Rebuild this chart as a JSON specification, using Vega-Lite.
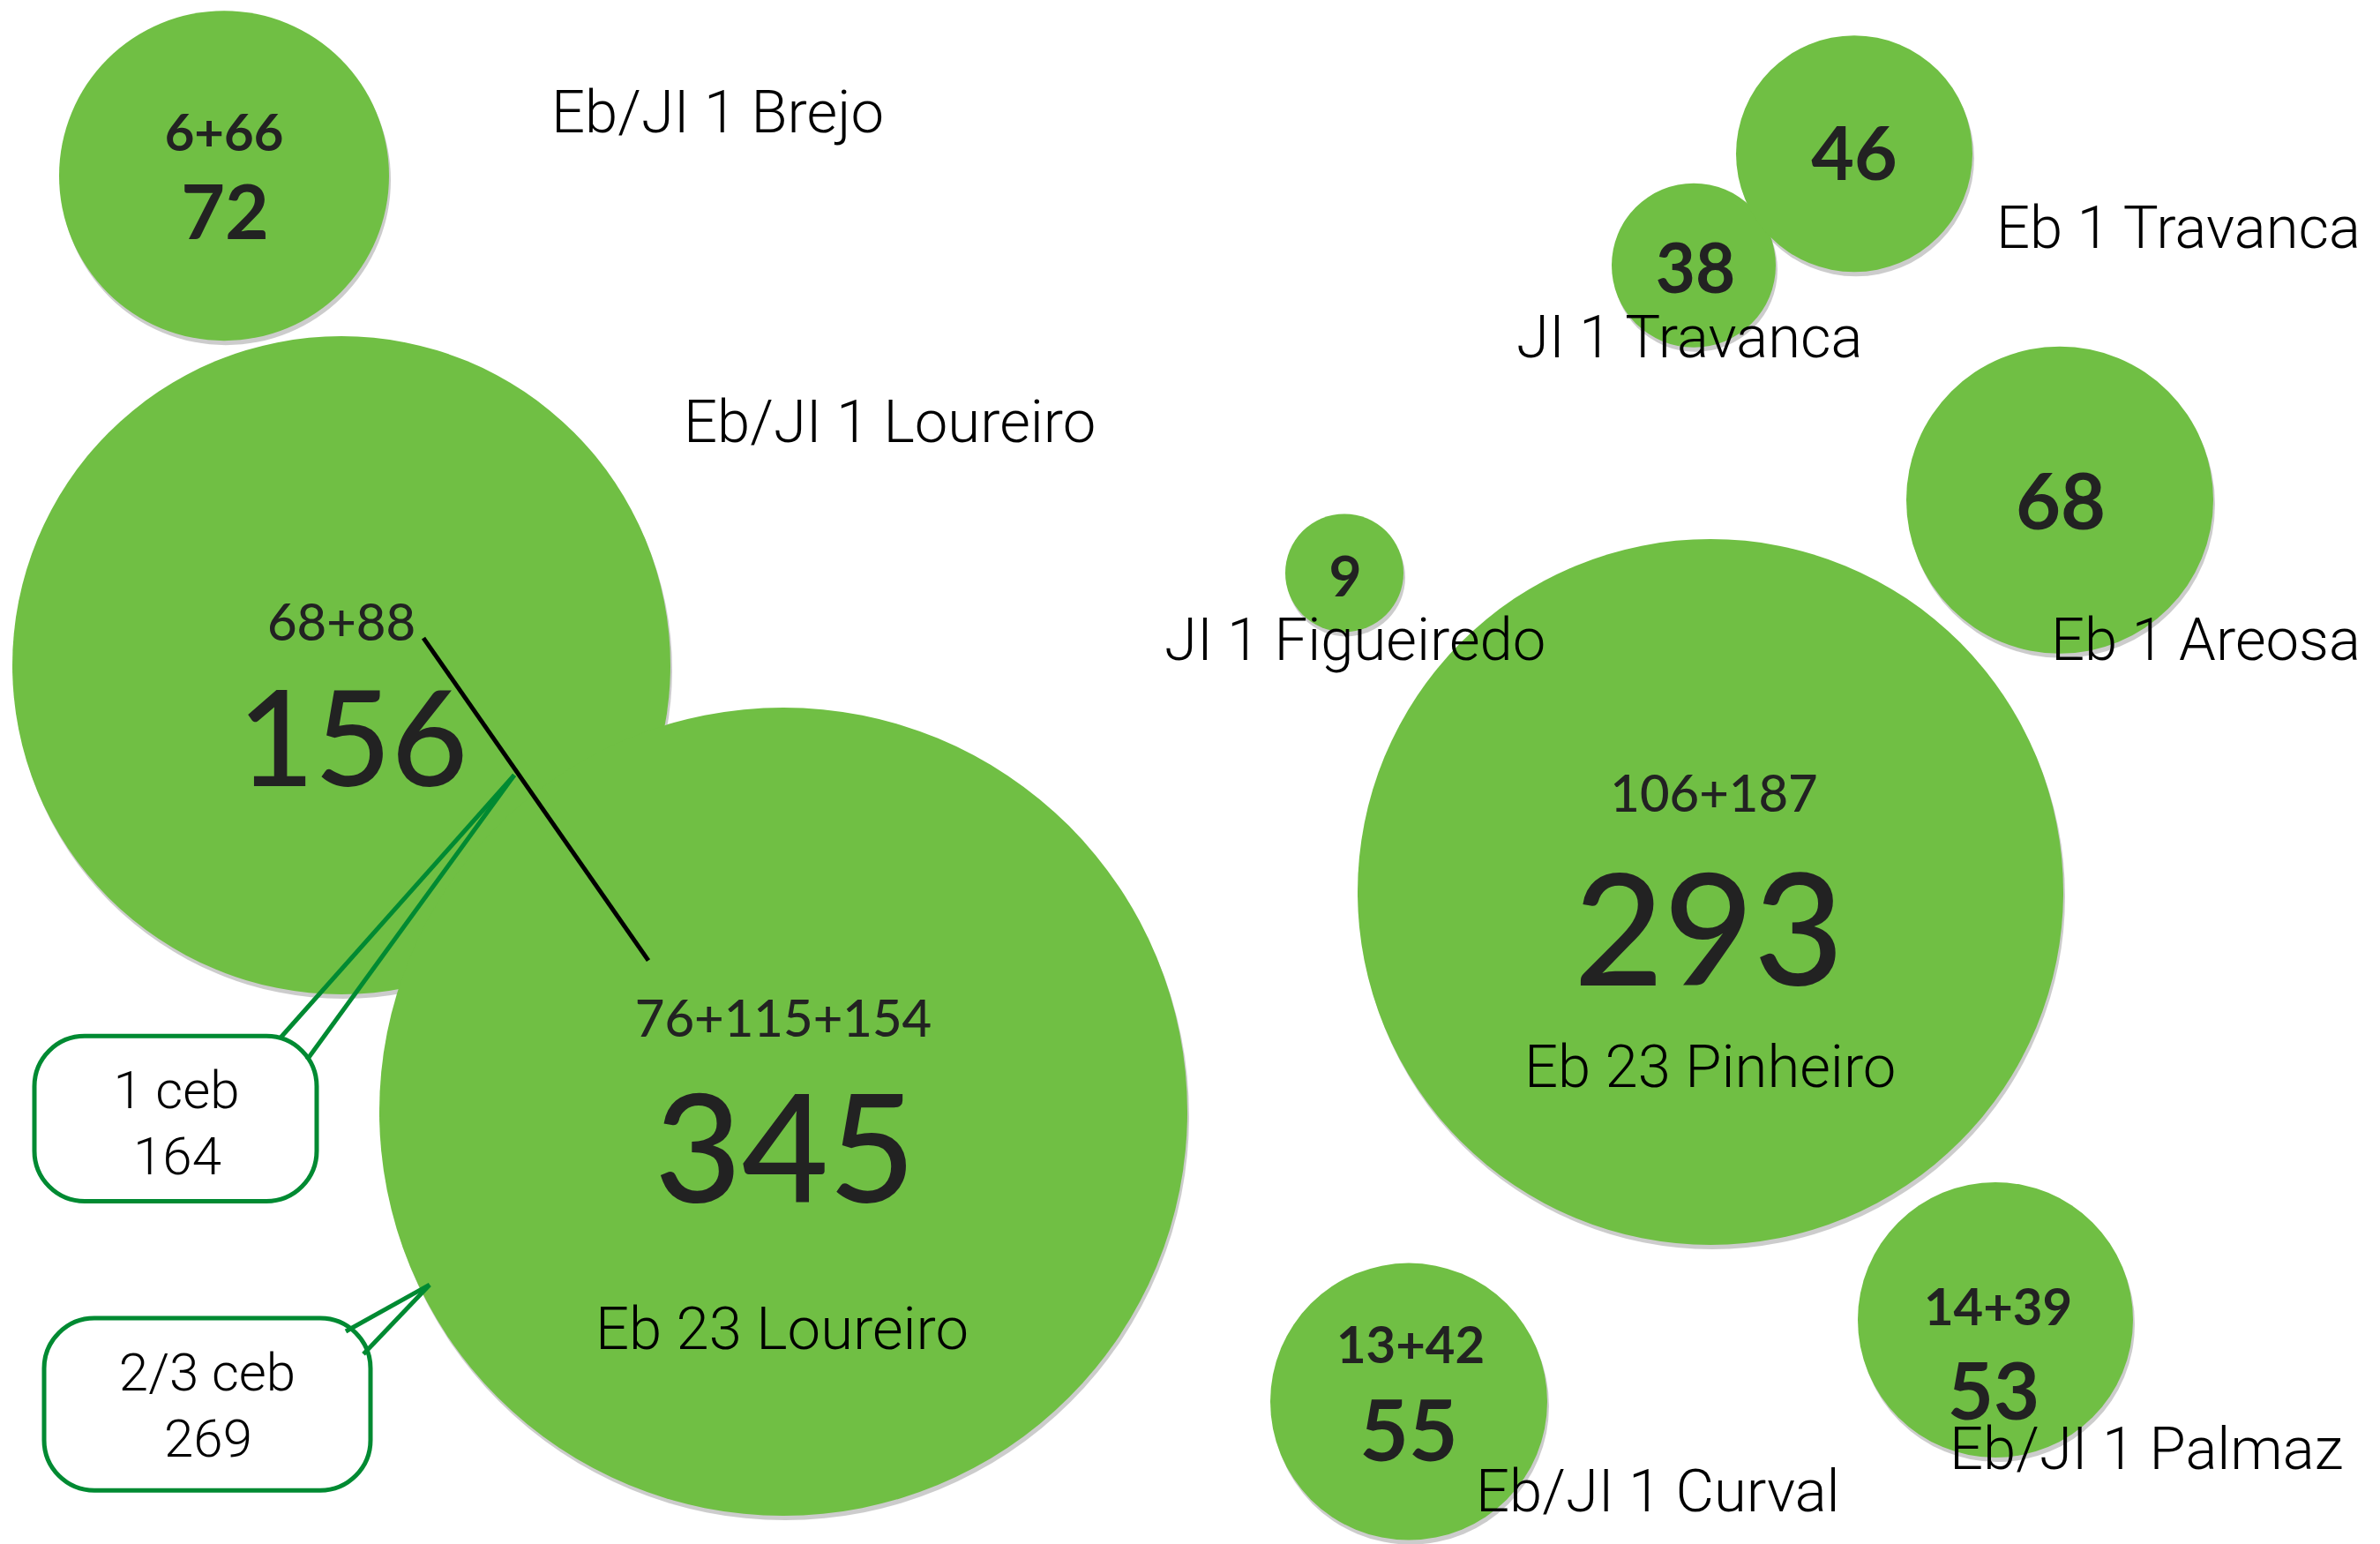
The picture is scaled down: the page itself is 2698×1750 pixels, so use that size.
{
  "$schema": "https://vega.github.io/schema/vega-lite/v6.json",
  "width": 2698,
  "height": 1750,
  "autosize": {"type": "fit", "contains": "padding"},
  "padding": 0,
  "background": "white",
  "config": {"view": {"stroke": null}},
  "datasets": {
    "schools": [
      {"school": "Eb/JI 1 Brejo", "total": 72, "parts": "6+66", "cx": 254, "cy": 200, "px": 254, "py": 172, "tx": 255, "ty": 272, "lx": 625, "ly": 151},
      {"school": "Eb/JI 1 Loureiro", "total": 156, "parts": "68+88", "cx": 387, "cy": 757, "px": 387, "py": 729, "tx": 400, "ty": 895, "lx": 775, "ly": 503},
      {"school": "Eb 23 Loureiro", "total": 345, "parts": "76+115+154", "cx": 888, "cy": 1265, "px": 888, "py": 1180, "tx": 890, "ty": 1368, "lx": 675, "ly": 1535},
      {"school": "Eb 23 Pinheiro", "total": 293, "parts": "106+187", "cx": 1939, "cy": 1015, "px": 1943, "py": 924, "tx": 1937, "ty": 1121, "lx": 1728, "ly": 1237},
      {"school": "JI 1 Travanca", "total": 38, "parts": "", "cx": 1920, "cy": 302, "px": 1920, "py": 302, "tx": 1922, "ty": 333, "lx": 1719, "ly": 407},
      {"school": "Eb 1 Travanca", "total": 46, "parts": "", "cx": 2102, "cy": 175, "px": 2102, "py": 175, "tx": 2102, "ty": 205, "lx": 2263, "ly": 282},
      {"school": "Eb 1 Areosa", "total": 68, "parts": "", "cx": 2335, "cy": 569, "px": 2335, "py": 569, "tx": 2336, "ty": 602, "lx": 2325, "ly": 751},
      {"school": "JI 1 Figueiredo", "total": 9, "parts": "", "cx": 1524, "cy": 652, "px": 1524, "py": 652, "tx": 1525, "ty": 679, "lx": 1320, "ly": 751},
      {"school": "Eb/JI 1 Curval", "total": 55, "parts": "13+42", "cx": 1597, "cy": 1595, "px": 1599, "py": 1551, "tx": 1597, "ty": 1663, "lx": 1673, "ly": 1720},
      {"school": "Eb/JI 1 Palmaz", "total": 53, "parts": "14+39", "cx": 2262, "cy": 1502, "px": 2265, "py": 1508, "tx": 2260, "ty": 1615, "lx": 2210, "ly": 1672}
    ],
    "boxes": [
      {"label": "1 ceb", "x1": 39, "x2": 359, "y1": 1179, "y2": 1367},
      {"label": "2/3 ceb", "x1": 50, "x2": 420, "y1": 1500, "y2": 1696}
    ],
    "connectors": [
      {"kind": "link", "x1": 480, "y1": 726, "x2": 735, "y2": 1093}
    ],
    "pointers": [
      {"box": "1 ceb", "x1": 317, "y1": 1182, "x2": 583, "y2": 882},
      {"box": "1 ceb", "x1": 583, "y1": 882, "x2": 348, "y2": 1206},
      {"box": "2/3 ceb", "x1": 392, "y1": 1515, "x2": 487, "y2": 1462},
      {"box": "2/3 ceb", "x1": 487, "y1": 1462, "x2": 412, "y2": 1541}
    ],
    "notes": [
      {"text": "1 ceb", "x": 200, "y": 1261},
      {"text": "164", "x": 201, "y": 1336},
      {"text": "2/3 ceb", "x": 235, "y": 1582},
      {"text": "269", "x": 236, "y": 1658}
    ]
  },
  "layer": [
    {
      "data": {"name": "schools"},
      "mark": {"type": "point", "shape": "circle", "filled": true, "color": "#000000", "opacity": 0.2, "xOffset": 2, "yOffset": 5, "strokeWidth": 0},
      "encoding": {
        "x": {"field": "cx", "type": "quantitative", "scale": {"domain": [0, 2698], "nice": false, "zero": false}, "axis": null},
        "y": {"field": "cy", "type": "quantitative", "scale": {"domain": [0, 1750], "reverse": true, "nice": false, "zero": false}, "axis": null},
        "size": {"field": "total", "type": "quantitative", "legend": null, "scale": {"type": "linear", "domain": [9, 38, 46, 53, 55, 68, 72, 156, 293, 345], "range": [17956, 34596, 71824, 97344, 98596, 121104, 139876, 556516, 640000, 839056]}}
      }
    },
    {
      "data": {"name": "schools"},
      "mark": {"type": "point", "shape": "circle", "filled": true, "color": "#70BF44", "opacity": 1, "strokeWidth": 0},
      "encoding": {
        "x": {"field": "cx", "type": "quantitative", "scale": {"domain": [0, 2698], "nice": false, "zero": false}, "axis": null},
        "y": {"field": "cy", "type": "quantitative", "scale": {"domain": [0, 1750], "reverse": true, "nice": false, "zero": false}, "axis": null},
        "size": {"field": "total", "type": "quantitative", "legend": null, "scale": {"type": "linear", "domain": [9, 38, 46, 53, 55, 68, 72, 156, 293, 345], "range": [17956, 34596, 71824, 97344, 98596, 121104, 139876, 556516, 640000, 839056]}}
      }
    },
    {
      "data": {"name": "connectors"},
      "mark": {"type": "rule", "color": "#000000", "strokeWidth": 5},
      "encoding": {
        "x": {"field": "x1", "type": "quantitative", "scale": {"domain": [0, 2698], "nice": false, "zero": false}, "axis": null},
        "y": {"field": "y1", "type": "quantitative", "scale": {"domain": [0, 1750], "reverse": true, "nice": false, "zero": false}, "axis": null},
        "x2": {"field": "x2"},
        "y2": {"field": "y2"}
      }
    },
    {
      "data": {"name": "boxes"},
      "mark": {"type": "rect", "fill": "#FFFFFF", "stroke": "#008A32", "strokeWidth": 5, "cornerRadius": 57},
      "encoding": {
        "x": {"field": "x1", "type": "quantitative", "scale": {"domain": [0, 2698], "nice": false, "zero": false}, "axis": null},
        "y": {"field": "y1", "type": "quantitative", "scale": {"domain": [0, 1750], "reverse": true, "nice": false, "zero": false}, "axis": null},
        "x2": {"field": "x2"},
        "y2": {"field": "y2"}
      }
    },
    {
      "data": {"name": "pointers"},
      "mark": {"type": "rule", "color": "#008A32", "strokeWidth": 5},
      "encoding": {
        "x": {"field": "x1", "type": "quantitative", "scale": {"domain": [0, 2698], "nice": false, "zero": false}, "axis": null},
        "y": {"field": "y1", "type": "quantitative", "scale": {"domain": [0, 1750], "reverse": true, "nice": false, "zero": false}, "axis": null},
        "x2": {"field": "x2"},
        "y2": {"field": "y2"}
      }
    },
    {
      "data": {"name": "schools"},
      "transform": [{"filter": "datum.total >= 100"}],
      "mark": {"type": "text", "font": "Lato", "fontSize": 58, "fontWeight": 500, "color": "#222222", "align": "center", "baseline": "alphabetic"},
      "encoding": {
        "x": {"field": "px", "type": "quantitative", "scale": {"domain": [0, 2698], "nice": false, "zero": false}, "axis": null},
        "y": {"field": "py", "type": "quantitative", "scale": {"domain": [0, 1750], "reverse": true, "nice": false, "zero": false}, "axis": null},
        "text": {"field": "parts"}
      }
    },
    {
      "data": {"name": "schools"},
      "transform": [{"filter": "datum.total < 100"}],
      "mark": {"type": "text", "font": "Lato", "fontSize": 58, "fontWeight": "bold", "color": "#222222", "align": "center", "baseline": "alphabetic"},
      "encoding": {
        "x": {"field": "px", "type": "quantitative", "scale": {"domain": [0, 2698], "nice": false, "zero": false}, "axis": null},
        "y": {"field": "py", "type": "quantitative", "scale": {"domain": [0, 1750], "reverse": true, "nice": false, "zero": false}, "axis": null},
        "text": {"field": "parts"}
      }
    },
    {
      "data": {"name": "schools"},
      "transform": [{"filter": "datum.total >= 100"}],
      "mark": {"type": "text", "font": "Lato", "fontWeight": 500, "color": "#222222", "align": "center", "baseline": "alphabetic"},
      "encoding": {
        "x": {"field": "tx", "type": "quantitative", "scale": {"domain": [0, 2698], "nice": false, "zero": false}, "axis": null},
        "y": {"field": "ty", "type": "quantitative", "scale": {"domain": [0, 1750], "reverse": true, "nice": false, "zero": false}, "axis": null},
        "text": {"field": "total", "type": "quantitative"},
        "size": {"field": "total", "type": "quantitative", "legend": null, "scale": {"type": "linear", "domain": [156, 293, 345], "range": [150, 176, 170]}}
      }
    },
    {
      "data": {"name": "schools"},
      "transform": [{"filter": "datum.total < 100"}],
      "mark": {"type": "text", "font": "Lato", "fontWeight": "bold", "color": "#222222", "align": "center", "baseline": "alphabetic"},
      "encoding": {
        "x": {"field": "tx", "type": "quantitative", "scale": {"domain": [0, 2698], "nice": false, "zero": false}, "axis": null},
        "y": {"field": "ty", "type": "quantitative", "scale": {"domain": [0, 1750], "reverse": true, "nice": false, "zero": false}, "axis": null},
        "text": {"field": "total", "type": "quantitative"},
        "size": {"field": "total", "type": "quantitative", "legend": null, "scale": {"type": "linear", "domain": [9, 38, 46, 53, 55, 68, 72], "range": [64, 78, 84, 90, 96, 88, 86]}}
      }
    },
    {
      "data": {"name": "schools"},
      "mark": {"type": "text", "font": "Roboto", "fontSize": 67, "fontWeight": 300, "color": "#000000", "align": "left", "baseline": "alphabetic"},
      "encoding": {
        "x": {"field": "lx", "type": "quantitative", "scale": {"domain": [0, 2698], "nice": false, "zero": false}, "axis": null},
        "y": {"field": "ly", "type": "quantitative", "scale": {"domain": [0, 1750], "reverse": true, "nice": false, "zero": false}, "axis": null},
        "text": {"field": "school"}
      }
    },
    {
      "data": {"name": "notes"},
      "mark": {"type": "text", "font": "Roboto", "fontSize": 60, "fontWeight": 300, "color": "#000000", "align": "center", "baseline": "alphabetic"},
      "encoding": {
        "x": {"field": "x", "type": "quantitative", "scale": {"domain": [0, 2698], "nice": false, "zero": false}, "axis": null},
        "y": {"field": "y", "type": "quantitative", "scale": {"domain": [0, 1750], "reverse": true, "nice": false, "zero": false}, "axis": null},
        "text": {"field": "text"}
      }
    }
  ],
  "resolve": {"scale": {"size": "independent"}}
}
